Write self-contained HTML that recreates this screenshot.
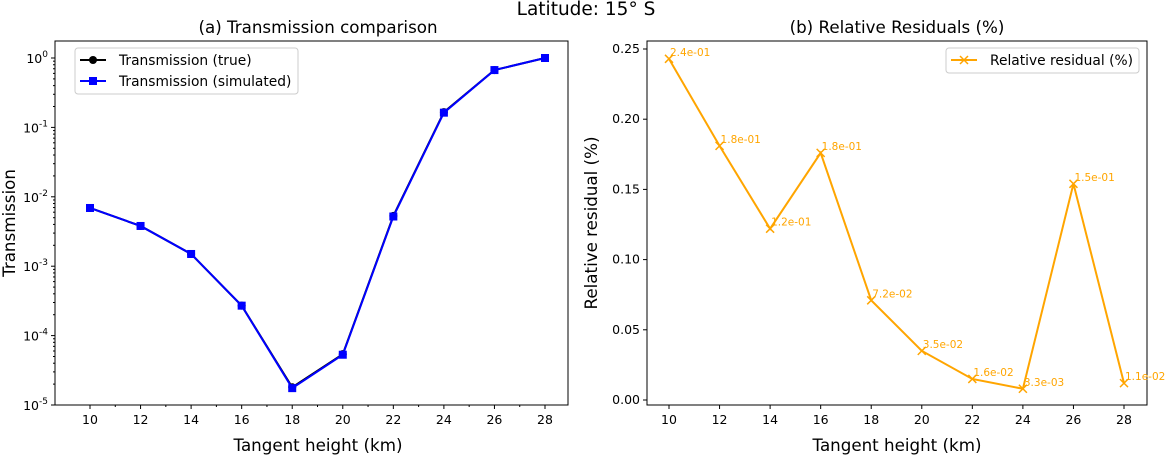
<!DOCTYPE html>
<html><head><meta charset="utf-8"><style>
body{margin:0;background:#fff;font-family:"Liberation Sans","DejaVu Sans",sans-serif}
svg text{font-family:"DejaVu Sans","Liberation Sans",sans-serif}
</style></head><body>
<svg id="c" width="1165" height="455" viewBox="0 0 1165 455" xmlns="http://www.w3.org/2000/svg">
<text x="586" y="15" font-size="18.5" text-anchor="middle">Latitude: 15° S</text>
</svg>
<script>
const heights=[10,12,14,16,18,20,22,24,26,28];
const transTrue=[6.9e-3,3.8e-3,1.5e-3,2.7e-4,1.8e-5,5.4e-5,5.3e-3,0.166,0.67,1.0];
const transSim=[6.9e-3,3.8e-3,1.5e-3,2.7e-4,1.75e-5,5.3e-5,5.2e-3,0.163,0.67,1.0];
const residuals=[0.243,0.181,0.122,0.176,0.071,0.035,0.015,0.008,0.154,0.012];
const residualLabels=["2.4e-01","1.8e-01","1.2e-01","1.8e-01","7.2e-02","3.5e-02","1.6e-02","3.3e-03","1.5e-01","1.1e-02"];
const xTicks=[10,12,14,16,18,20,22,24,26,28];
const logTicks=[0,-1,-2,-3,-4,-5];
const resTicks=[0,0.05,0.10,0.15,0.20,0.25];

const svg=document.getElementById('c');
const NS="http://www.w3.org/2000/svg";
function mk(tag,attrs,parent){const e=document.createElementNS(NS,tag);for(const k in attrs)e.setAttribute(k,attrs[k]);(parent||svg).appendChild(e);return e;}
function txt(x,y,s,size,anchor,fill,parent){const t=mk('text',{x:x,y:y,'font-size':size,'text-anchor':anchor||'middle',fill:fill||'#000'},parent);t.textContent=s;return t;}

const L={x0:55,x1:568,y0:41,y1:405};
const lx=v=>90+(v-10)*(545-90)/18;
const ly=v=>58+(-Math.log10(v))*69.4;
const lyE=e=>58+(-e)*69.4;
const R={x0:647,x1:1147,y0:41,y1:405};
const rx=v=>669+(v-10)*(1124-669)/18;
const ry=v=>400-v*(400-49)/0.25;

function frame(P,name){const r=mk('rect',{x:P.x0,y:P.y0,width:P.x1-P.x0,height:P.y1-P.y0,fill:'none',stroke:'#000','stroke-width':1});}

frame(L,'left-plot-frame');
for(const t of xTicks){mk('line',{x1:lx(t),x2:lx(t),y1:L.y1,y2:L.y1+4,stroke:'#000'});const e=txt(lx(t),L.y1+19,String(t),12.5);}
for(let t=11;t<28;t+=2)mk('line',{x1:lx(t),x2:lx(t),y1:L.y1,y2:L.y1+2,stroke:'#000'});
for(const e of logTicks){const y=lyE(e);mk('line',{x1:L.x0-4,x2:L.x0,y1:y,y2:y,stroke:'#000'});
 const t=mk('text',{x:L.x0-7,y:y+5,'font-size':12.5,'text-anchor':'end'});
 t.textContent='10';const s=mk('tspan',{dy:-6,'font-size':9},t);s.textContent=String(e);
 if(e>-5)for(let m=2;m<10;m++){const yy=lyE(e-1)-Math.log10(m)*69.4;mk('line',{x1:L.x0-2,x2:L.x0,y1:yy,y2:yy,stroke:'#000'});}
}
let t1=txt(318,33,'(a) Transmission comparison',16.7);
let t2=txt(318,451,'Tangent height (km)',16.7);
let t3=mk('text',{x:15,y:223,'font-size':16.7,'text-anchor':'middle',transform:'rotate(-90 15 223)'});t3.textContent='Transmission';

let p1=mk('polyline',{points:heights.map((h,i)=>lx(h)+','+ly(transTrue[i])).join(' '),fill:'none',stroke:'#000','stroke-width':2});

heights.forEach((h,i)=>{const c=mk('circle',{cx:lx(h),cy:ly(transTrue[i]),r:4,fill:'#000'});});
let p2=mk('polyline',{points:heights.map((h,i)=>lx(h)+','+ly(transSim[i])).join(' '),fill:'none',stroke:'#0000ff','stroke-width':2});

heights.forEach((h,i)=>{const c=mk('rect',{x:lx(h)-4,y:ly(transSim[i])-4,width:8,height:8,fill:'#0000ff'});});

const lg=mk('g',{});
mk('rect',{x:75,y:48,width:223,height:46,rx:3,fill:'#fff',stroke:'#ccc'},lg);
mk('line',{x1:80,x2:106,y1:60,y2:60,stroke:'#000','stroke-width':2},lg);mk('circle',{cx:93,cy:60,r:4,fill:'#000'},lg);
txt(119,65,'Transmission (true)',13.8,'start','#000',lg);
mk('line',{x1:80,x2:106,y1:81,y2:81,stroke:'#0000ff','stroke-width':2},lg);mk('rect',{x:89,y:77,width:8,height:8,fill:'#0000ff'},lg);
txt(119,86,'Transmission (simulated)',13.8,'start','#000',lg);

frame(R,'right-plot-frame');
for(const t of xTicks){mk('line',{x1:rx(t),x2:rx(t),y1:R.y1,y2:R.y1+4,stroke:'#000'});const e=txt(rx(t),R.y1+19,String(t),12.5);}
for(const t of resTicks){const y=ry(t);mk('line',{x1:R.x0-4,x2:R.x0,y1:y,y2:y,stroke:'#000'});const e=txt(R.x0-7,y+4,t.toFixed(2),12.5,'end');}
let t4=txt(897,33,'(b) Relative Residuals (%)',16.7);
let t5=txt(897,451,'Tangent height (km)',16.7);
let t6=mk('text',{x:597,y:223,'font-size':16.7,'text-anchor':'middle',transform:'rotate(-90 597 223)'});t6.textContent='Relative residual (%)';
let p3=mk('polyline',{points:heights.map((h,i)=>rx(h)+','+ry(residuals[i])).join(' '),fill:'none',stroke:'#ffa500','stroke-width':2});

heights.forEach((h,i)=>{const x=rx(h),y=ry(residuals[i]);
 const g=mk('g',{});
 mk('path',{d:`M${x-4},${y-4}L${x+4},${y+4}M${x-4},${y+4}L${x+4},${y-4}`,stroke:'#ffa500','stroke-width':1.5},g);
 const l=txt(x+1,y-3,residualLabels[i],10.5,'start','#ffa500');});
const rg=mk('g',{});
mk('rect',{x:946,y:48,width:193,height:25,rx:3,fill:'#fff',stroke:'#ccc'},rg);
mk('line',{x1:951,x2:977,y1:60,y2:60,stroke:'#ffa500','stroke-width':2},rg);
mk('path',{d:'M960,56L968,64M960,64L968,56',stroke:'#ffa500','stroke-width':1.5},rg);
txt(990,65,'Relative residual (%)',13.8,'start','#000',rg);
</script>
</body></html>
